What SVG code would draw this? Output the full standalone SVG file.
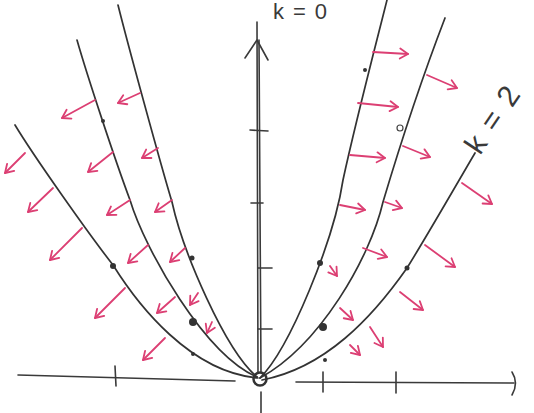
<svg xmlns="http://www.w3.org/2000/svg" width="534" height="413" viewBox="0 0 534 413">
<defs>
<style>
.ax{fill:none;stroke:#3a3a3a;stroke-width:1.6;stroke-linecap:round;stroke-linejoin:round}
.cv{fill:none;stroke:#333;stroke-width:1.7;stroke-linecap:round}
.ar{fill:none;stroke:#dc3f73;stroke-width:1.8;stroke-linecap:round;marker-end:url(#ah)}
.dot{fill:#333}
.lb{font-family:"Liberation Sans",Arial,sans-serif;fill:#3a3a3a}
</style>
<marker id="ah" viewBox="-10 -7 12 14" refX="0" refY="0" markerWidth="12" markerHeight="14" markerUnits="userSpaceOnUse" orient="auto">
<path d="M-8,-5 L0,0 L-8,5" fill="none" stroke="#dc3f73" stroke-width="1.8" stroke-linecap="round" stroke-linejoin="round"/>
</marker>
</defs>
<rect width="534" height="413" fill="#fff"/>

<g id="axes">
<path class="ax" d="M18,375 L235,381"/>
<path class="ax" d="M296,382 L514,383"/>
<path class="ax" d="M512,372 Q519,383 512,395"/>
<path class="ax" d="M115,366 L116,386"/>
<path class="ax" d="M323,372 L323,392"/>
<path class="ax" d="M396,372 L396,393"/>
<path class="ax" d="M261,392 L261,413"/>
<path class="ax" stroke-width="2" d="M258,374 L257,22"/>
<path class="ax" d="M261,374 L259,40"/>
<path class="ax" stroke-width="2" d="M245,58 L257,40 L268,60"/>
<path class="ax" d="M250,130 L268,131"/>
<path class="ax" d="M251,203 L263,203"/>
<path class="ax" d="M258,268 L272,268"/>
<path class="ax" d="M258,329 L272,329"/>
<circle cx="260" cy="379" r="6.5" fill="#fff" stroke="#333" stroke-width="2.5"/>
</g>

<g id="curves">
<path id="R1" class="cv" d="M260,378 C290,348 334,240 343,180 C356,120 377,40 387,0"/>
<path id="R2" class="cv" d="M260,378 C320,345 370,258 383,202 C400,145 425,70 445,18"/>
<path id="R3" class="cv" d="M262,380 C325,368 372,318 407,268 C427,236 462,175 475,153"/>
<path id="L1" class="cv" d="M257,377 C225,350 183,252 172,202 C160,162 128,45 118,5"/>
<path id="L2" class="cv" d="M257,377 C205,355 145,250 130,200 C115,160 87,75 77,40"/>
<path id="L3" class="cv" d="M258,378 C190,372 138,305 113,265 C88,233 33,155 15,125"/>
</g>

<g id="dots">
<circle class="dot" cx="365" cy="70" r="2"/>
<circle cx="400" cy="128" r="3" fill="#fff" stroke="#444" stroke-width="1.2"/>
<circle class="dot" cx="320" cy="263" r="3"/>
<circle class="dot" cx="323" cy="327" r="4"/>
<circle class="dot" cx="407" cy="268" r="2.5"/>
<circle class="dot" cx="325" cy="360" r="2"/>
<circle class="dot" cx="103" cy="121" r="2"/>
<circle class="dot" cx="192" cy="258" r="2.5"/>
<circle class="dot" cx="113" cy="266" r="3"/>
<circle class="dot" cx="193" cy="322" r="4"/>
<circle class="dot" cx="193" cy="354" r="2"/>
</g>

<g id="arrows">
<path class="ar" d="M373,52 L408,54"/>
<path class="ar" d="M358,103 L398,107"/>
<path class="ar" d="M350,155 L385,158"/>
<path class="ar" d="M427,75 L457,88"/>
<path class="ar" d="M403,146 L430,157"/>
<path class="ar" d="M462,183 L492,204"/>
<path class="ar" d="M340,205 L365,210"/>
<path class="ar" d="M385,202 L402,208"/>
<path class="ar" d="M363,248 L387,257"/>
<path class="ar" d="M330,266 L337,276"/>
<path class="ar" d="M425,245 L455,267"/>
<path class="ar" d="M400,292 L423,310"/>
<path class="ar" d="M340,308 L353,320"/>
<path class="ar" d="M370,327 L383,347"/>
<path class="ar" d="M350,345 L360,355"/>
<path class="ar" d="M140,93 L118,103"/>
<path class="ar" d="M95,100 L62,118"/>
<path class="ar" d="M158,148 L142,158"/>
<path class="ar" d="M113,152 L88,172"/>
<path class="ar" d="M25,153 L5,173"/>
<path class="ar" d="M172,200 L155,212"/>
<path class="ar" d="M130,200 L107,215"/>
<path class="ar" d="M53,188 L28,212"/>
<path class="ar" d="M82,228 L50,260"/>
<path class="ar" d="M148,245 L128,263"/>
<path class="ar" d="M185,248 L170,262"/>
<path class="ar" d="M125,288 L95,318"/>
<path class="ar" d="M175,297 L157,313"/>
<path class="ar" d="M198,293 L190,305"/>
<path class="ar" d="M212,322 L207,333"/>
<path class="ar" d="M165,338 L143,360"/>
</g>

<g id="labels">
<text class="lb" x="273" y="19" font-size="22" textLength="54" lengthAdjust="spacing">k=0</text>
<text class="lb" font-size="30" textLength="74" lengthAdjust="spacing" transform="translate(480,156) rotate(-56)">k=2</text>
</g>
</svg>
